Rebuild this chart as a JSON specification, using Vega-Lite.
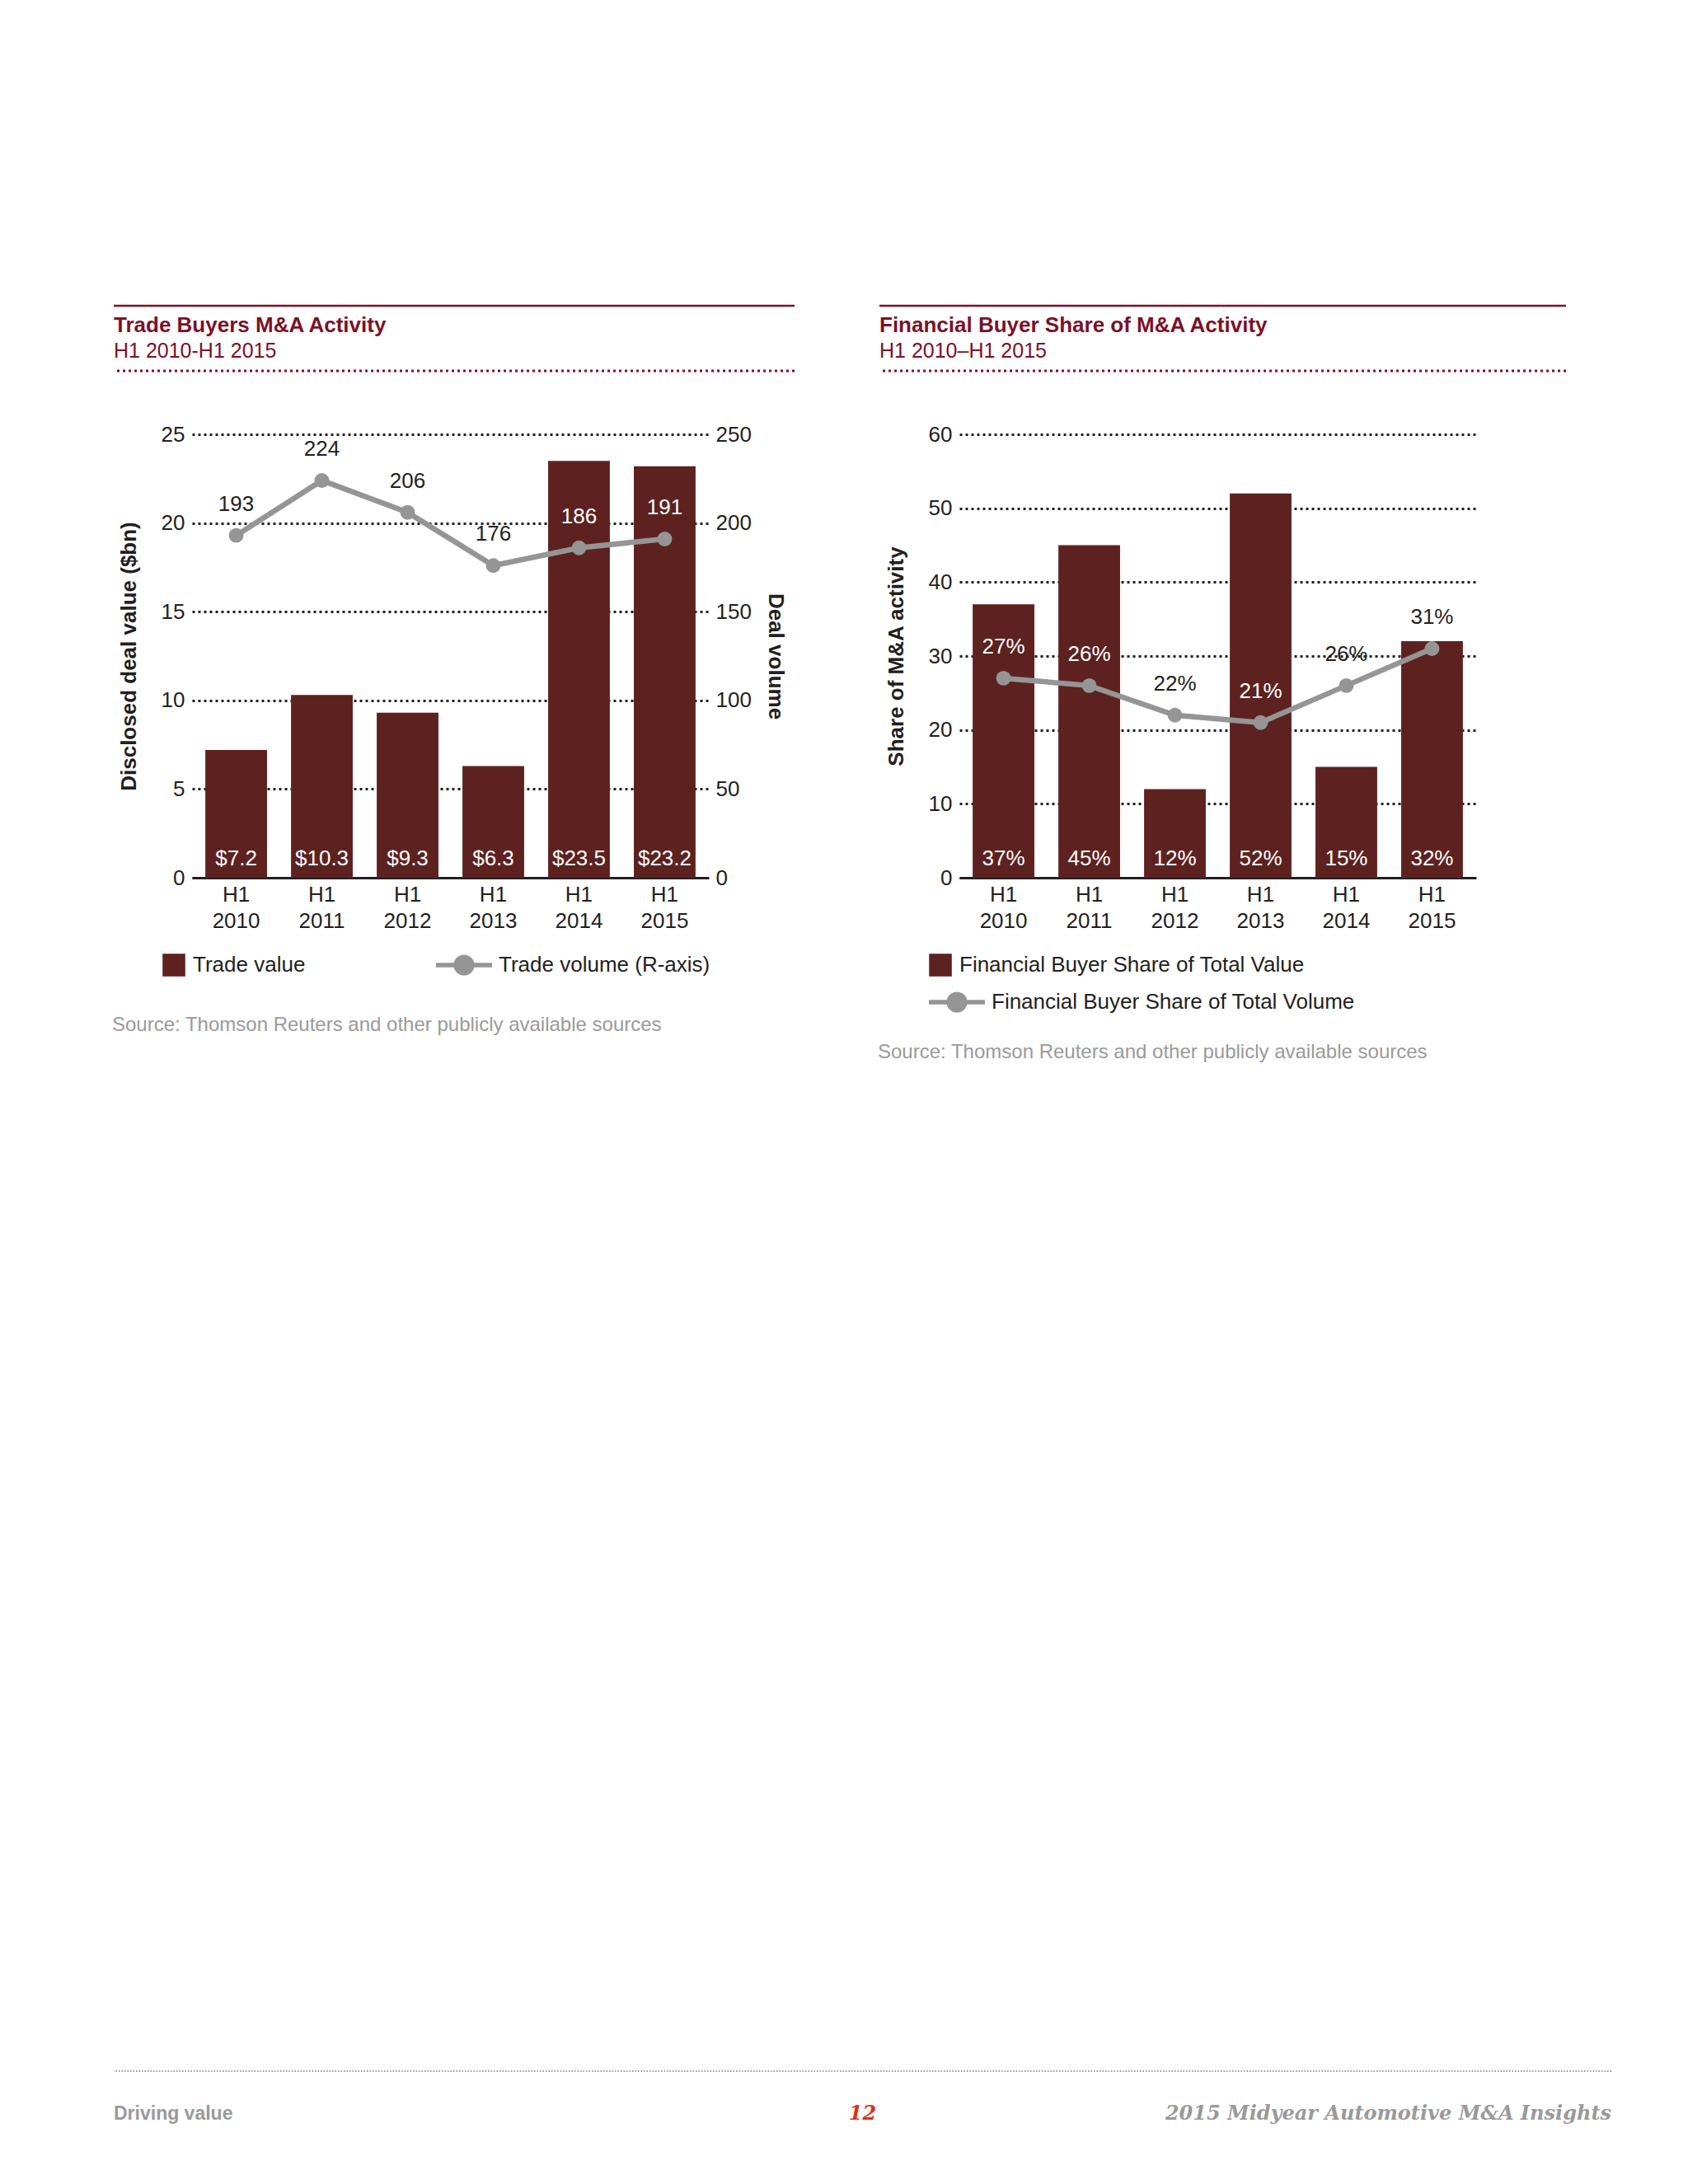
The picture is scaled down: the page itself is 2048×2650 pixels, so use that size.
{
  "$schema": "https://vega.github.io/schema/vega-lite/v6.json",
  "background": "white",
  "padding": {"left": 136, "top": 369, "right": 10, "bottom": 10},
  "datasets": {
    "trade": [
      {"period": "H1 2010", "value": 7.2, "volume": 193},
      {"period": "H1 2011", "value": 10.3, "volume": 224},
      {"period": "H1 2012", "value": 9.3, "volume": 206},
      {"period": "H1 2013", "value": 6.3, "volume": 176},
      {"period": "H1 2014", "value": 23.5, "volume": 186},
      {"period": "H1 2015", "value": 23.2, "volume": 191}
    ],
    "fin": [
      {"period": "H1 2010", "value_share": 37, "volume_share": 27},
      {"period": "H1 2011", "value_share": 45, "volume_share": 26},
      {"period": "H1 2012", "value_share": 12, "volume_share": 22},
      {"period": "H1 2013", "value_share": 52, "volume_share": 21},
      {"period": "H1 2014", "value_share": 15, "volume_share": 26},
      {"period": "H1 2015", "value_share": 32, "volume_share": 31}
    ],
    "blank": [{}],
    "foot_left": [{"label": "Driving value"}],
    "foot_mid": [{"label": "12"}],
    "foot_right": [{"label": "2015 Midyear Automotive M&A Insights"}]
  },
  "vconcat": [
    {
      "hconcat": [
        {
          "vconcat": [
            {
              "width": 826,
              "height": 79,
              "data": {"name": "blank"},
              "title": {"text": "Trade Buyers M&A Activity", "subtitle": "H1 2010-H1 2015", "anchor": "start", "frame": "group", "orient": "top", "offset": -69},
              "layer": [
                {"mark": {"type": "rule", "color": "#7D1128", "strokeWidth": 2.5}, "encoding": {"y": {"datum": 1, "type": "quantitative", "scale": {"domain": [0, 1], "nice": false}, "axis": null}}},
                {"mark": {"type": "rule", "color": "#7D1128", "strokeWidth": 3, "strokeDash": [3, 4]}, "encoding": {"y": {"datum": 0, "type": "quantitative", "axis": null}}}
              ]
            },
            {
              "hconcat": [
                {
                  "width": 95,
                  "height": 1,
                  "data": {"name": "blank"},
                  "mark": {"type": "point", "opacity": 0},
                  "encoding": {}
                },
                {
                  "width": 627,
                  "height": 538,
                  "data": {"name": "trade"},
                  "title": {"text": "Source: Thomson Reuters and other publicly available sources", "orient": "bottom", "anchor": "start", "frame": "group", "dx": -97, "offset": 40, "fontSize": 24, "fontWeight": "normal", "color": "#9A9A9A"},
                  "encoding": {
                    "x": {"field": "period", "type": "nominal", "sort": null, "title": null, "scale": {"paddingInner": 0.28, "paddingOuter": 0.155},
                      "axis": {"labelExpr": "split(datum.label, ' ')", "labelAngle": 0, "domain": true, "domainColor": "#231F20", "domainWidth": 3, "ticks": false, "labelPadding": 7, "labelLineHeight": 32, "labelBaseline": "top", "grid": false}}
                  },
                  "layer": [
                    {
                      "layer": [
                        {
                          "mark": {"type": "bar"},
                          "encoding": {
                            "y": {"field": "value", "type": "quantitative", "scale": {"domain": [0, 25], "nice": false}, "axis": {"orient": "left", "values": [0, 5, 10, 15, 20, 25], "title": "Disclosed deal value ($bn)", "grid": true, "labelPadding": 9, "titlePadding": 26}},
                            "fill": {"datum": "Trade value", "type": "nominal", "scale": {"range": ["#5D2220"]}, "legend": {"title": null, "orient": "none", "legendX": -36, "legendY": 630, "symbolType": "square", "symbolSize": 760, "symbolStrokeWidth": 0, "labelOffset": 9}}
                          }
                        },
                        {
                          "mark": {"type": "text", "color": "white", "baseline": "middle", "dy": -23, "fontSize": 26},
                          "encoding": {
                            "y": {"datum": 0, "type": "quantitative"},
                            "text": {"field": "value", "type": "quantitative", "format": "$.1f"}
                          }
                        }
                      ]
                    },
                    {
                      "layer": [
                        {
                          "mark": {"type": "line", "strokeWidth": 6.5},
                          "encoding": {
                            "y": {"field": "volume", "type": "quantitative", "scale": {"domain": [0, 250], "nice": false}, "axis": {"orient": "right", "values": [0, 50, 100, 150, 200, 250], "title": "Deal volume", "grid": false, "labelPadding": 8, "titlePadding": 16}},
                            "stroke": {"datum": "Trade volume (R-axis)", "type": "nominal", "scale": {"range": ["#959595"]}, "legend": {"title": null, "orient": "none", "legendX": 293, "legendY": 607, "symbolType": "M-1,0L1,0M-0.29,0A0.29,0.29,0,1,0,0.29,0A0.29,0.29,0,1,0,-0.29,0Z", "symbolSize": 4624, "symbolStrokeWidth": 5.5, "symbolFillColor": "#959595", "labelOffset": 5, "encode": {"symbols": {"update": {"fill": {"value": "#959595"}}}}}}
                          }
                        },
                        {
                          "mark": {"type": "point", "filled": true, "color": "#959595", "size": 320, "opacity": 1},
                          "encoding": {"y": {"field": "volume", "type": "quantitative"}}
                        },
                        {
                          "mark": {"type": "text", "baseline": "middle", "dy": -38, "fontSize": 26},
                          "encoding": {
                            "y": {"field": "volume", "type": "quantitative"},
                            "text": {"field": "volume", "type": "quantitative"},
                            "color": {"condition": {"test": "datum.value * 10 > datum.volume + 20", "value": "white"}, "value": "#231F20"}
                          }
                        }
                      ]
                    }
                  ],
                  "resolve": {"scale": {"y": "independent", "fill": "independent", "stroke": "independent"}}
                }
              ],
              "bounds": "flush",
              "spacing": 0
            }
          ],
          "spacing": 62
        },
        {
          "vconcat": [
            {
              "width": 833,
              "height": 79,
              "data": {"name": "blank"},
              "title": {"text": "Financial Buyer Share of M&A Activity", "subtitle": "H1 2010–H1 2015", "anchor": "start", "frame": "group", "orient": "top", "offset": -69},
              "layer": [
                {"mark": {"type": "rule", "color": "#7D1128", "strokeWidth": 2.5}, "encoding": {"y": {"datum": 1, "type": "quantitative", "scale": {"domain": [0, 1], "nice": false}, "axis": null}}},
                {"mark": {"type": "rule", "color": "#7D1128", "strokeWidth": 3, "strokeDash": [3, 4]}, "encoding": {"y": {"datum": 0, "type": "quantitative", "axis": null}}}
              ]
            },
            {
              "hconcat": [
                {
                  "width": 97,
                  "height": 1,
                  "data": {"name": "blank"},
                  "mark": {"type": "point", "opacity": 0},
                  "encoding": {}
                },
                {
                  "width": 627,
                  "height": 538,
                  "data": {"name": "fin"},
                  "title": {"text": "Source: Thomson Reuters and other publicly available sources", "orient": "bottom", "anchor": "start", "frame": "group", "dx": -99, "offset": 28, "fontSize": 24, "fontWeight": "normal", "color": "#9A9A9A"},
                  "encoding": {
                    "x": {"field": "period", "type": "nominal", "sort": null, "title": null, "scale": {"paddingInner": 0.28, "paddingOuter": 0.155},
                      "axis": {"labelExpr": "split(datum.label, ' ')", "labelAngle": 0, "domain": true, "domainColor": "#231F20", "domainWidth": 3, "ticks": false, "labelPadding": 7, "labelLineHeight": 32, "labelBaseline": "top", "grid": false}}
                  },
                  "layer": [
                    {
                      "mark": {"type": "bar"},
                      "encoding": {
                        "y": {"field": "value_share", "type": "quantitative", "scale": {"domain": [0, 60], "nice": false}, "title": "Share of M&A activity", "axis": {"orient": "left", "values": [0, 10, 20, 30, 40, 50, 60], "grid": true, "labelPadding": 9, "titlePadding": 26}},
                        "fill": {"datum": "Financial Buyer Share of Total Value", "type": "nominal", "scale": {"range": ["#5D2220"]}, "legend": {"title": null, "orient": "none", "legendX": -37, "legendY": 630, "symbolType": "square", "symbolSize": 760, "symbolStrokeWidth": 0, "labelOffset": 9}}
                      }
                    },
                    {
                      "transform": [{"calculate": "datum.value_share + '%'", "as": "value_label"}],
                      "mark": {"type": "text", "color": "white", "baseline": "middle", "dy": -23, "fontSize": 26},
                      "encoding": {
                        "y": {"datum": 0, "type": "quantitative", "title": "Share of M&A activity"},
                        "text": {"field": "value_label", "type": "nominal"}
                      }
                    },
                    {
                      "mark": {"type": "line", "strokeWidth": 6.5},
                      "encoding": {
                        "y": {"field": "volume_share", "type": "quantitative", "title": "Share of M&A activity"},
                        "stroke": {"datum": "Financial Buyer Share of Total Volume", "type": "nominal", "scale": {"range": ["#959595"]}, "legend": {"title": null, "orient": "none", "legendX": -40, "legendY": 652, "symbolType": "M-1,0L1,0M-0.29,0A0.29,0.29,0,1,0,0.29,0A0.29,0.29,0,1,0,-0.29,0Z", "symbolSize": 4624, "symbolStrokeWidth": 5.5, "symbolFillColor": "#959595", "labelOffset": 5, "encode": {"symbols": {"update": {"fill": {"value": "#959595"}}}}}}
                      }
                    },
                    {
                      "mark": {"type": "point", "filled": true, "color": "#959595", "size": 320, "opacity": 1},
                      "encoding": {"y": {"field": "volume_share", "type": "quantitative", "title": "Share of M&A activity"}}
                    },
                    {
                      "transform": [{"calculate": "datum.volume_share + '%'", "as": "volume_label"}],
                      "mark": {"type": "text", "baseline": "middle", "dy": -38, "fontSize": 26},
                      "encoding": {
                        "y": {"field": "volume_share", "type": "quantitative", "title": "Share of M&A activity"},
                        "text": {"field": "volume_label", "type": "nominal"},
                        "color": {"condition": {"test": "datum.value_share > datum.volume_share + 4", "value": "white"}, "value": "#231F20"}
                      }
                    }
                  ],
                  "resolve": {"scale": {"fill": "independent", "stroke": "independent"}}
                }
              ],
              "bounds": "flush",
              "spacing": 0
            }
          ],
          "spacing": 62
        }
      ],
      "spacing": 99
    },
    {
      "width": 1817,
      "height": 52,
      "layer": [
        {"data": {"name": "blank"}, "mark": {"type": "rule", "color": "#9A9A9A", "strokeWidth": 2, "strokeDash": [1.5, 2]}, "encoding": {"y": {"datum": 1, "type": "quantitative", "scale": {"domain": [0, 1], "nice": false}, "axis": null}}},
        {"data": {"name": "foot_left"}, "mark": {"type": "text", "align": "left", "baseline": "middle", "font": "Liberation Sans", "fontWeight": "bold", "fontSize": 23, "color": "#9A9A9A"},
          "encoding": {"x": {"datum": 0, "type": "quantitative", "scale": {"domain": [0, 1], "nice": false}, "axis": null}, "y": {"datum": 0, "type": "quantitative"}, "text": {"field": "label"}}},
        {"data": {"name": "foot_mid"}, "mark": {"type": "text", "align": "center", "baseline": "middle", "font": "DejaVu Serif", "fontWeight": "bold", "fontStyle": "italic", "fontSize": 24, "color": "#E0301E"},
          "encoding": {"x": {"datum": 0.5, "type": "quantitative"}, "y": {"datum": 0, "type": "quantitative"}, "text": {"field": "label"}}},
        {"data": {"name": "foot_right"}, "mark": {"type": "text", "align": "right", "baseline": "middle", "font": "DejaVu Serif", "fontWeight": "bold", "fontStyle": "italic", "fontSize": 24, "color": "#9A9A9A"},
          "encoding": {"x": {"datum": 1, "type": "quantitative"}, "y": {"datum": 0, "type": "quantitative"}, "text": {"field": "label"}}}
      ]
    }
  ],
  "spacing": 1223,
  "config": {
    "view": {"stroke": null},
    "font": "Liberation Sans",
    "axis": {"labelFont": "Liberation Sans", "labelFontSize": 26, "labelColor": "#231F20", "titleFont": "Liberation Sans", "titleFontSize": 26, "titleFontWeight": "bold", "titleColor": "#231F20", "ticks": false, "domain": false, "gridColor": "#231F20", "gridWidth": 3, "gridDash": [3, 4], "gridOpacity": 1},
    "legend": {"labelFont": "Liberation Sans", "labelFontSize": 26, "labelColor": "#231F20", "padding": 0, "labelLimit": 0},
    "title": {"font": "Liberation Sans", "fontSize": 26, "fontWeight": "bold", "color": "#7D1128", "subtitleFont": "Liberation Sans", "subtitleFontSize": 25, "subtitleColor": "#7D1128", "subtitleFontWeight": "normal", "subtitlePadding": 6}
  }
}
